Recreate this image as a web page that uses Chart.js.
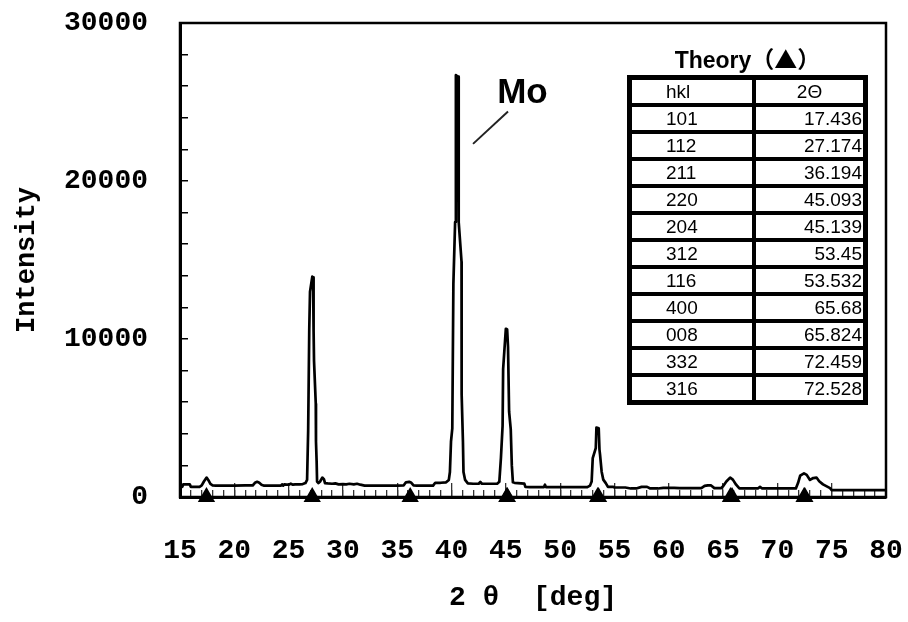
<!DOCTYPE html>
<html>
<head>
<meta charset="utf-8">
<script src="https://cdn.jsdelivr.net/npm/chart.js@4.4.1/dist/chart.umd.min.js"></script>
<style>
  body { margin: 0; background: #fff; }
  #wrap { position: relative; width: 908px; height: 622px; }
  #theoryTitle {
    position: absolute; left: 627px; top: 47px; width: 241px;
    text-align: center; font: bold 23px "Liberation Sans", Arial, "Noto Sans CJK JP", sans-serif;
    line-height: 23px; color: #000;
  }
  #theoryTitle span { font-family: "Noto Sans CJK JP", sans-serif; font-weight: bold; }
  #theoryTable {
    position: absolute; left: 627px; top: 75px;
    background: #000; border: 1px solid #000;
    border-collapse: separate; border-spacing: 4px;
    table-layout: fixed;
    font: 19px "Liberation Sans", Arial, sans-serif; color: #000;
  }
  #theoryTable td {
    background: #fff; height: 23px; padding: 0; line-height: 23px;
    white-space: nowrap; overflow: hidden;
  }
  #theoryTable td.hkl { width: 86px; padding-left: 34px; text-align: left; }
  #theoryTable td.ang { width: 106px; padding-right: 1px; text-align: right; }
  #theoryTable td.head { text-align: center; padding-right: 0; width: 107px; }
</style>
</head>
<body>
<div id="wrap">
  <canvas id="xrd" width="908" height="622"></canvas>
  <div id="theoryTitle">Theory<span>（▲）</span></div>
  <table id="theoryTable"><tbody id="tbody"></tbody></table>
</div>
<script>
// measured pattern (2theta in deg, counts)
const thetaObs = [
  15.0, 15.2, 15.3, 15.9, 16.0, 16.8, 17.0, 17.2, 17.45, 17.6, 17.8, 18.0, 18.3, 19.0, 20.0, 21.0,
  21.7, 21.9, 22.1, 22.3, 22.5, 22.7, 23.5, 24.3, 24.4, 24.5, 24.6, 24.8, 25.0, 25.2, 25.4, 25.6,
  26.0, 26.3, 26.55, 26.7, 26.8, 26.9, 26.97, 27.18, 27.25, 27.3, 27.34, 27.5, 27.52, 27.58, 27.62, 27.75,
  27.9, 28.1, 28.25, 28.35, 28.6, 29.0, 29.3, 29.6, 30.0, 30.3, 30.6, 31.0, 31.3, 31.6, 32.0, 33.0,
  34.0, 35.0, 35.6, 35.8, 36.1, 36.3, 36.5, 36.8, 37.5, 38.3, 38.5, 39.0, 39.5, 39.75, 39.85, 39.95,
  40.07, 40.17, 40.33, 40.4, 40.6, 40.66, 40.92, 40.93, 41.05, 41.1, 41.25, 41.5, 42.0, 42.5, 42.65, 42.8,
  43.5, 44.2, 44.4, 44.55, 44.7, 44.75, 45.0, 45.12, 45.2, 45.3, 45.45, 45.55, 45.65, 45.8, 46.7, 46.8,
  47.2, 48.5, 48.6, 48.7, 50.0, 51.0, 52.0, 52.5, 52.75, 52.9, 53.0, 53.28, 53.34, 53.55, 53.62, 53.67,
  53.82, 53.97, 54.2, 54.4, 54.9, 55.0, 56.0, 56.5, 57.0, 57.5, 58.0, 58.3, 59.0, 59.5, 60.5, 61.0,
  62.0, 63.0, 63.3, 63.6, 63.9, 64.2, 64.8, 65.0, 65.3, 65.65, 65.9, 66.2, 66.5, 67.5, 68.2, 68.4,
  68.6, 71.0, 71.7, 71.9, 72.1, 72.45, 72.7, 73.0, 73.3, 73.6, 73.85, 74.2, 74.85, 75.0, 76.0, 78.0,
  80.0
];
const intensityObs = [
  640, 640, 800, 800, 640, 640, 730, 980, 1230, 1080, 830, 740, 720, 720, 720, 730,
  730, 900, 960, 900, 780, 720, 720, 720, 800, 720, 800, 780, 780, 840, 780, 800,
  800, 820, 880, 1080, 4200, 10600, 13000, 13950, 13900, 10500, 8600, 5900, 3500, 2250, 980, 880,
  980, 1230, 1130, 880, 860, 840, 860, 800, 820, 800, 840, 800, 840, 780, 720, 720,
  720, 720, 740, 930, 960, 900, 740, 720, 720, 720, 900, 900, 930, 1080, 1580, 3500,
  4350, 13500, 17400, 26700, 26600, 17400, 14900, 6500, 3500, 1580, 1080, 860, 840, 840, 950, 840,
  840, 840, 960, 2500, 4500, 8100, 10650, 10600, 9500, 5400, 4300, 2000, 930, 900, 850, 640,
  620, 620, 780, 620, 620, 620, 620, 620, 720, 980, 2460, 3100, 4400, 4350, 3000, 2700,
  1600, 1100, 880, 640, 640, 600, 600, 540, 540, 640, 640, 540, 540, 580, 580, 560,
  560, 560, 700, 740, 730, 560, 560, 680, 980, 1230, 1100, 780, 540, 540, 540, 640,
  540, 540, 540, 880, 1350, 1500, 1400, 1080, 1200, 1230, 1000, 800, 560, 430, 430, 430,
  430
];

// theoretical reflections
const hklLabels = ['101', '112', '211', '220', '204', '312', '116', '400', '008', '332', '316'];
const theoryTheta = [17.436, 27.174, 36.194, 45.093, 45.139, 53.45, 53.532, 65.68, 65.824, 72.459, 72.528];
const theoryLabels = ['17.436', '27.174', '36.194', '45.093', '45.139', '53.45', '53.532', '65.68', '65.824', '72.459', '72.528'];

const yTickLabels = [0, 10000, 20000, 30000];
const xTickLabels = [15, 20, 25, 30, 35, 40, 45, 50, 55, 60, 65, 70, 75, 80];

// table
const tbody = document.getElementById('tbody');
let html = '<tr><td class="hkl">hkl</td><td class="ang head">2Θ</td></tr>';
hklLabels.forEach((h, i) => {
  html += '<tr><td class="hkl">' + h + '</td><td class="ang">' + theoryLabels[i] + '</td></tr>';
});
tbody.innerHTML = html;

const monoFont = '"Liberation Mono", "DejaVu Sans Mono", monospace';

// frame around the plot + the "Mo" note
const framePlugin = {
  id: 'frame',
  beforeDatasetsDraw(chart) {
    const { ctx, chartArea: a } = chart;
    ctx.save();
    ctx.strokeStyle = '#000';
    ctx.lineWidth = 2.5;
    ctx.strokeRect(a.left, a.top, a.right - a.left, a.bottom - a.top);
    ctx.restore();
  },
  afterDatasetsDraw(chart) {
    const { ctx, scales: { x, y } } = chart;
    ctx.save();
    ctx.fillStyle = '#000';
    ctx.font = 'bold 35px "Liberation Sans", Arial, sans-serif';
    ctx.textBaseline = 'alphabetic';
    ctx.fillText('Mo', x.getPixelForValue(44.2), y.getPixelForValue(24950));
    ctx.strokeStyle = '#222';
    ctx.lineWidth = 2;
    ctx.beginPath();
    ctx.moveTo(x.getPixelForValue(45.2), y.getPixelForValue(24400));
    ctx.lineTo(x.getPixelForValue(41.98), y.getPixelForValue(22350));
    ctx.stroke();
    ctx.restore();
  }
};

new Chart(document.getElementById('xrd'), {
  type: 'scatter',
  data: {
    datasets: [
      {
        label: 'measured',
        data: thetaObs.map((t, i) => ({ x: t, y: intensityObs[i] })),
        showLine: true,
        borderColor: '#000',
        borderWidth: 2.7,
        borderJoinStyle: 'round',
        pointRadius: 0,
        tension: 0,
      },
      {
        label: 'theory',
        data: theoryTheta.map(t => ({ x: t, y: 0 })),
        pointStyle: 'triangle',
        pointRadius: 10,
        backgroundColor: '#000',
        borderColor: '#000',
        borderWidth: 0,
        clip: false,
      },
    ],
  },
  options: {
    responsive: false,
    animation: false,
    layout: { padding: { top: 23, right: 22, left: 0, bottom: 0 } },
    plugins: { legend: { display: false }, tooltip: { enabled: false } },
    scales: {
      xMinor: {
        type: 'linear',
        position: 'bottom',
        weight: 0,
        min: 15, max: 80,
        ticks: { stepSize: 1, display: false, autoSkip: false },
        grid: { drawOnChartArea: false, tickLength: -7, color: '#333', lineWidth: 1.3 },
        border: { display: false },
        afterFit(s) { s.height = 0; s.paddingLeft = 0; s.paddingRight = 0; },
      },
      x: {
        type: 'linear',
        position: 'bottom',
        weight: 1,
        min: 15, max: 80,
        ticks: {
          stepSize: 5,
          padding: 51,
          autoSkip: false,
          maxRotation: 0,
          color: '#000',
          font: { family: monoFont, size: 28, weight: 'bold' },
          callback: v => (xTickLabels.includes(v) ? String(v) : ''),
        },
        grid: { drawOnChartArea: false, tickLength: -14, color: '#333', lineWidth: 1.3 },
        border: { display: true, color: '#000', width: 3 },
        title: {
          display: true,
          text: '2 θ  [deg]',
          color: '#000',
          font: { family: monoFont, size: 28, weight: 'bold' },
          padding: { top: 0, bottom: 7 },
        },
        afterFit(s) { s.height = 125; s.paddingLeft = 0; s.paddingRight = 0; },
      },
      y: {
        type: 'linear',
        position: 'left',
        min: 0, max: 30000,
        ticks: {
          stepSize: 2000,
          padding: 40,
          autoSkip: false,
          color: '#000',
          font: { family: monoFont, size: 28, weight: 'bold' },
          callback: v => (yTickLabels.includes(v) ? String(v) : ''),
        },
        grid: { drawOnChartArea: false, tickLength: -8, color: '#000', lineWidth: 1.5 },
        border: { display: true, color: '#000', width: 3 },
        title: {
          display: true,
          text: 'Intensity',
          color: '#000',
          font: { family: monoFont, size: 27, weight: 'bold' },
          padding: { top: 11, bottom: 0 },
        },
        afterFit(s) { s.width = 180; s.paddingTop = 0; s.paddingBottom = 0; },
      },
    },
  },
  plugins: [framePlugin],
});
</script>
</body>
</html>
